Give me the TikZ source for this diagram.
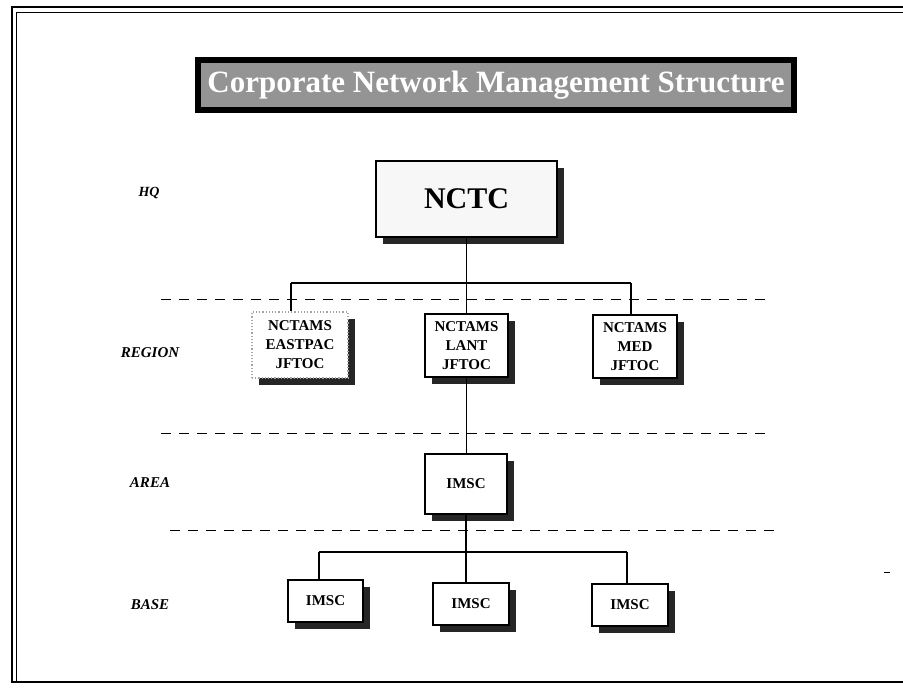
\documentclass[tikz,border=0pt]{standalone}
\usepackage{fontspec}
\setmainfont{Liberation Serif}
\usetikzlibrary{shadows}
\begin{document}
\begin{tikzpicture}[x=1pt,y=-1pt,
  unit/.style={draw=black, line width=1.2pt, fill=white, inner sep=0pt, align=center,
    font=\bfseries\fontsize{15}{19}\selectfont,
    drop shadow={shadow xshift=7pt, shadow yshift=-7pt, fill=black!85, opacity=1}},
  faint/.style={unit, draw=black!35, dotted},
  level/.style={font=\bfseries\itshape\fontsize{15}{18}\selectfont, inner sep=0pt},
  link/.style={line width=1.1pt},
  sep/.style={line width=0.9pt, dash pattern=on 10pt off 8pt},
  frame/.style={line width=2pt}]
\useasboundingbox (0,0) rectangle (903,692);
% page frame
\draw[frame] (903,7) -- (12,7) -- (12,682) -- (903,682);
\draw[line width=0.7pt] (903,12.5) -- (16.5,12.5) -- (16.5,682);
\draw[line width=1pt] (884,572) -- (890,572);
% title
\node[draw=black, line width=6pt, fill=black!42, minimum width=596pt, minimum height=50pt,
      inner sep=0pt, text=white, font=\bfseries\fontsize{31}{36}\selectfont] (title) at (496,85)
      {Corporate Network Management Structure};
% level labels
\node[level, font=\bfseries\itshape\fontsize{14}{16}\selectfont] (hq) at (149,193) {HQ};
\node[level] (region) at (150,353) {REGION};
\node[level] (area) at (150,483) {AREA};
\node[level] (base) at (150,605) {BASE};
% separators
\draw[sep] (161,299) -- (768,299);
\draw[sep] (161,433) -- (768,433);
\draw[sep] (170,530) -- (775,530);
% boxes
\node[unit, fill=black!3, minimum width=181pt, minimum height=76pt,
      font=\bfseries\fontsize{30}{34}\selectfont] (nctc) at (466.5,199) {NCTC};
\node[faint, minimum width=96pt, minimum height=66pt] (east) at (300,345) {NCTAMS\\EASTPAC\\JFTOC};
\node[unit, minimum width=83pt, minimum height=63pt] (lant) at (466.5,345.5) {NCTAMS\\LANT\\JFTOC};
\node[unit, minimum width=84pt, minimum height=63pt] (med) at (635,346.5) {NCTAMS\\MED\\JFTOC};
\node[unit, minimum width=82pt, minimum height=60pt] (imsc) at (466,484) {IMSC};
\node[unit, minimum width=75pt, minimum height=42pt] (bl) at (325.5,601) {IMSC};
\node[unit, minimum width=76pt, minimum height=42pt] (bm) at (471,604) {IMSC};
\node[unit, minimum width=76pt, minimum height=42pt] (br) at (630,605) {IMSC};
% connectors
\coordinate (rl) at (291,283);
\coordinate (rr) at (631,283);
\coordinate (bjl) at (319,552);
\coordinate (bjr) at (627,552);
\draw[link] (nctc.south) -- (lant.north);
\draw[link] (rl) -- (rr);
\draw[link] (rl) -- (rl |- east.north);
\draw[link] (rr) -- (rr |- med.north);
\draw[link] (lant.south) -- (lant.south |- imsc.north);
\draw[link] (imsc.south) -- (imsc.south |- bm.north);
\draw[link] (bjl) -- (bjr);
\draw[link] (bjl) -- (bjl |- bl.north);
\draw[link] (bjr) -- (bjr |- br.north);
\end{tikzpicture}
\end{document}
